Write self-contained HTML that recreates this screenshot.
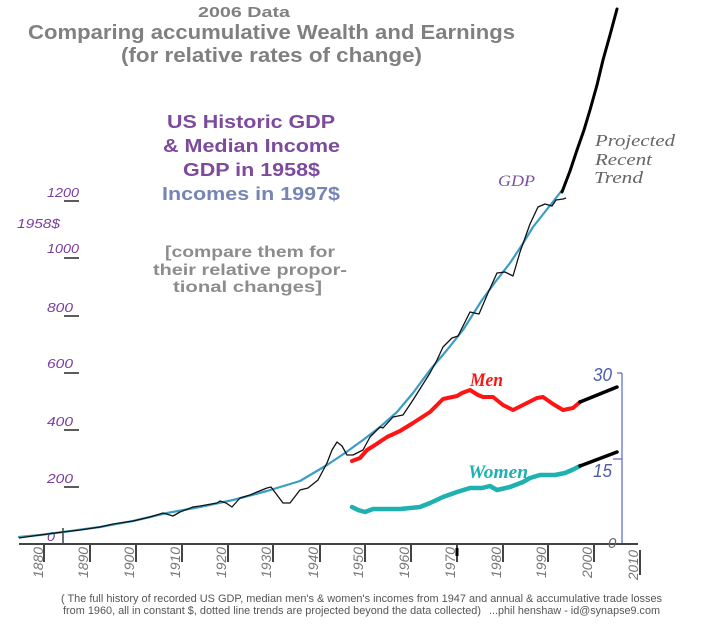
<!DOCTYPE html>
<html>
<head>
<meta charset="utf-8">
<style>
html,body{margin:0;padding:0;background:#fff;}
svg{display:block;}
</style>
</head>
<body>
<svg width="720" height="627" viewBox="0 0 720 627" xmlns="http://www.w3.org/2000/svg">
<rect width="720" height="627" fill="#fff"/>

<!-- Titles -->
<g font-family="Liberation Sans, Arial, sans-serif" font-weight="bold" fill="#808080">
  <text x="198" y="17" font-size="15" textLength="92" lengthAdjust="spacingAndGlyphs">2006 Data</text>
  <text x="28" y="39" font-size="20" textLength="487" lengthAdjust="spacingAndGlyphs">Comparing accumulative Wealth and Earnings</text>
  <text x="121" y="62" font-size="20" textLength="301" lengthAdjust="spacingAndGlyphs">(for relative rates of change)</text>
</g>

<g font-family="Liberation Sans, Arial, sans-serif" font-weight="bold" font-size="18">
  <text x="167" y="128" fill="#7d4a9c" textLength="168" lengthAdjust="spacingAndGlyphs">US Historic GDP</text>
  <text x="163" y="152" fill="#7d4a9c" textLength="177" lengthAdjust="spacingAndGlyphs">&amp; Median Income</text>
  <text x="183" y="176" fill="#7d4a9c" textLength="137" lengthAdjust="spacingAndGlyphs">GDP in 1958$</text>
  <text x="162" y="200" fill="#7585b5" textLength="178" lengthAdjust="spacingAndGlyphs">Incomes in 1997$</text>
</g>

<g font-family="Liberation Sans, Arial, sans-serif" font-weight="bold" font-size="16" fill="#8c8c8c">
  <text x="165" y="257" textLength="170" lengthAdjust="spacingAndGlyphs">[compare them for</text>
  <text x="153" y="275" textLength="194" lengthAdjust="spacingAndGlyphs">their relative propor-</text>
  <text x="173" y="292" textLength="149" lengthAdjust="spacingAndGlyphs">tional changes]</text>
</g>

<!-- Left axis labels -->
<g font-family="Liberation Sans, Arial, sans-serif" font-style="italic" font-size="13" fill="#7a3da0">
  <text x="47" y="197" textLength="32" lengthAdjust="spacingAndGlyphs">1200</text>
  <text x="17" y="228" textLength="43" lengthAdjust="spacingAndGlyphs">1958$</text>
  <text x="47" y="253" textLength="32" lengthAdjust="spacingAndGlyphs">1000</text>
  <text x="47" y="312" textLength="26" lengthAdjust="spacingAndGlyphs">800</text>
  <text x="47" y="368" textLength="26" lengthAdjust="spacingAndGlyphs">600</text>
  <text x="47" y="426" textLength="26" lengthAdjust="spacingAndGlyphs">400</text>
  <text x="47" y="483" textLength="26" lengthAdjust="spacingAndGlyphs">200</text>
  <text x="47" y="541" textLength="8" lengthAdjust="spacingAndGlyphs">0</text>
</g>
<g stroke="#333" stroke-width="1.6">
  <line x1="64" y1="201" x2="79" y2="201"/>
  <line x1="64" y1="258" x2="79" y2="258"/>
  <line x1="64" y1="316" x2="79" y2="316"/>
  <line x1="64" y1="373" x2="79" y2="373"/>
  <line x1="64" y1="430" x2="79" y2="430"/>
  <line x1="64" y1="487" x2="79" y2="487"/>
</g>
<line x1="63" y1="528" x2="63" y2="544" stroke="#222" stroke-width="1.3"/>

<!-- X axis -->
<line x1="19" y1="544" x2="638" y2="544" stroke="#444" stroke-width="2"/>
<g stroke="#444" stroke-width="2">
  <line x1="44" y1="544" x2="44" y2="562"/>
  <line x1="90" y1="544" x2="90" y2="562"/>
  <line x1="136" y1="544" x2="136" y2="562"/>
  <line x1="182" y1="544" x2="182" y2="562"/>
  <line x1="228" y1="544" x2="228" y2="562"/>
  <line x1="273" y1="544" x2="273" y2="562"/>
  <line x1="320" y1="544" x2="320" y2="562"/>
  <line x1="365" y1="544" x2="365" y2="562"/>
  <line x1="411" y1="544" x2="411" y2="562"/>
  <line x1="457" y1="544" x2="457" y2="562"/>
  <line x1="503" y1="544" x2="503" y2="562"/>
  <line x1="548" y1="544" x2="548" y2="562"/>
  <line x1="594" y1="544" x2="594" y2="562"/>
  <line x1="640" y1="550" x2="640" y2="575"/>
</g>
<line x1="457" y1="548" x2="457" y2="556" stroke="#000" stroke-width="3"/>
<g font-family="Liberation Sans, Arial, sans-serif" font-style="italic" font-size="14" fill="#777">
  <text transform="translate(43,578) rotate(-90)" textLength="31" lengthAdjust="spacingAndGlyphs">1880</text>
  <text transform="translate(88,578) rotate(-90)" textLength="31" lengthAdjust="spacingAndGlyphs">1890</text>
  <text transform="translate(134,578) rotate(-90)" textLength="31" lengthAdjust="spacingAndGlyphs">1900</text>
  <text transform="translate(180,578) rotate(-90)" textLength="31" lengthAdjust="spacingAndGlyphs">1910</text>
  <text transform="translate(226,578) rotate(-90)" textLength="31" lengthAdjust="spacingAndGlyphs">1920</text>
  <text transform="translate(271,578) rotate(-90)" textLength="31" lengthAdjust="spacingAndGlyphs">1930</text>
  <text transform="translate(318,578) rotate(-90)" textLength="31" lengthAdjust="spacingAndGlyphs">1940</text>
  <text transform="translate(363,578) rotate(-90)" textLength="31" lengthAdjust="spacingAndGlyphs">1950</text>
  <text transform="translate(409,578) rotate(-90)" textLength="31" lengthAdjust="spacingAndGlyphs">1960</text>
  <text transform="translate(455,578) rotate(-90)" textLength="31" lengthAdjust="spacingAndGlyphs">1970</text>
  <text transform="translate(501,578) rotate(-90)" textLength="31" lengthAdjust="spacingAndGlyphs">1980</text>
  <text transform="translate(546,578) rotate(-90)" textLength="31" lengthAdjust="spacingAndGlyphs">1990</text>
  <text transform="translate(592,578) rotate(-90)" textLength="31" lengthAdjust="spacingAndGlyphs">2000</text>
  <text transform="translate(638,580) rotate(-90)" textLength="30" lengthAdjust="spacingAndGlyphs">2010</text>
</g>

<!-- Right axis -->
<g stroke="#5566cc" stroke-width="1.2" fill="none">
  <line x1="622" y1="373" x2="622" y2="543"/>
  <line x1="617" y1="373" x2="622" y2="373"/>
  <line x1="613" y1="459" x2="622" y2="459"/>
</g>
<g font-family="Liberation Sans, Arial, sans-serif" font-style="italic" font-size="18" fill="#4a5cb0">
  <text x="593" y="381" textLength="19" lengthAdjust="spacingAndGlyphs">30</text>
  <text x="593" y="477" textLength="19" lengthAdjust="spacingAndGlyphs">15</text>
</g>
<text x="608" y="548" font-family="Liberation Sans, Arial, sans-serif" font-style="italic" font-size="15" fill="#666">0</text>

<!-- Blue trend -->
<polyline fill="none" stroke="#3b9dc2" stroke-width="2.2" stroke-linejoin="round" stroke-linecap="round"
 points="19,537 40,535 63,532 100,527 133,521 167,513 200,507 233,500 267,491 300,481 327,465 345,453 363,440 380,427 397,412 413,393 430,370 447,350 463,330 482,300 496,281 510,263 522,245 533,227 552,203 563,189"/>

<!-- GDP black -->
<polyline fill="none" stroke="#111" stroke-width="1.3" stroke-linejoin="round"
 points="19,538 40,535 63,532 80,530 100,527 113,524 133,521 150,517 163,513 173,516 180,512 193,507 200,506 217,503 220,501 226,503 232,507 240,498 250,495 257,492 267,488 271,487 277,495 283,503 290,503 300,490 308,488 318,480 327,463 332,450 337,442 342,446 347,455 353,455 363,450 370,437 380,427 383,428 393,417 403,415 413,400 430,373 437,360 443,347 452,338 458,336 465,322 470,312 479,314 488,293 497,273 505,272 513,276 520,252 530,224 538,207 545,204 552,206 556,200 563,199 566,198"/>

<!-- GDP projection -->
<polyline fill="none" stroke="#000" stroke-width="3" stroke-linejoin="round" stroke-linecap="round"
 points="562,192 570,171 577,150 584,130 590,110 597,85 603,60 610,35 617,9"/>

<!-- Men -->
<polyline fill="none" stroke="#ff1414" stroke-width="4" stroke-linejoin="round" stroke-linecap="round"
 points="352,461 360,458 367,450 375,445 387,437 400,431 413,423 430,412 443,399 457,396 462,393 470,390 478,395 483,397 493,397 503,405 513,410 523,405 537,398 543,397 553,404 563,410 573,408 580,402"/>
<line x1="580" y1="402" x2="617" y2="387" stroke="#000" stroke-width="3.5" stroke-linecap="round"/>

<!-- Women -->
<polyline fill="none" stroke="#1fb0b0" stroke-width="4.5" stroke-linejoin="round" stroke-linecap="round"
 points="352,507 358,510 365,512 373,509 385,509 400,509 420,507 430,503 443,497 457,492 470,488 482,488 490,486 497,490 510,487 523,482 530,478 540,475 555,475 565,473 572,470 580,466"/>
<line x1="580" y1="466" x2="617" y2="452" stroke="#000" stroke-width="3.5" stroke-linecap="round"/>

<!-- Series labels -->
<text x="470" y="386" font-family="Liberation Serif, serif" font-style="italic" font-weight="bold" font-size="19" fill="#ff1414" textLength="33" lengthAdjust="spacingAndGlyphs">Men</text>
<text x="468" y="478" font-family="Liberation Serif, serif" font-style="italic" font-weight="bold" font-size="19" fill="#1fb0b0" textLength="60" lengthAdjust="spacingAndGlyphs">Women</text>
<text x="498" y="186" font-family="Liberation Serif, serif" font-style="italic" font-size="16" fill="#8050a0" textLength="37" lengthAdjust="spacingAndGlyphs">GDP</text>

<g font-family="Liberation Serif, serif" font-style="italic" font-size="17" fill="#666">
  <text x="595" y="146" textLength="80" lengthAdjust="spacingAndGlyphs">Projected</text>
  <text x="595" y="165" textLength="57" lengthAdjust="spacingAndGlyphs">Recent</text>
  <text x="594" y="183" textLength="49" lengthAdjust="spacingAndGlyphs">Trend</text>
</g>

<!-- Footnote -->
<g font-family="Liberation Sans, Arial, sans-serif" font-size="11" fill="#555">
  <text x="61" y="602" textLength="601" lengthAdjust="spacingAndGlyphs">( The full history of recorded US GDP, median men's &amp; women's incomes from 1947 and annual &amp; accumulative trade losses</text>
  <text x="63" y="614" textLength="418" lengthAdjust="spacingAndGlyphs">from 1960, all in constant $, dotted line trends are projected beyond the data collected)</text>
  <text x="489" y="614" textLength="171" lengthAdjust="spacingAndGlyphs">...phil henshaw - id@synapse9.com</text>
</g>
</svg>
</body>
</html>
